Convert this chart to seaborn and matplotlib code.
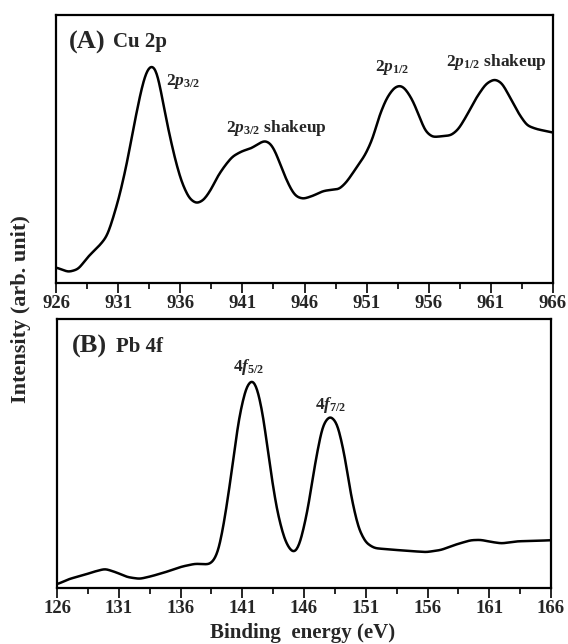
import numpy as np
import pandas as pd
import matplotlib
matplotlib.use("Agg")
import matplotlib.pyplot as plt
import seaborn as sns

# Cu 2p spectrum (binding energy in eV, intensity in arb. units)
cu_energy = [926.0, 927.0, 927.8, 928.6, 929.5, 930.1, 930.5, 931.1, 931.7, 932.3,
             932.9, 933.3, 933.7, 934.1, 934.5, 935.0, 935.6, 936.1, 936.7, 937.3,
             937.9, 938.5, 939.0, 939.6, 940.2, 941.0, 941.7, 942.3, 942.8, 943.3,
             943.7, 944.3, 944.9, 945.3, 945.9, 946.7, 947.5, 948.1, 948.8, 949.4,
             950.1, 950.9, 951.5, 952.0, 952.6, 953.2, 953.7, 954.1, 954.7, 955.3,
             955.7, 956.3, 956.9, 957.8, 958.4, 959.1, 959.8, 960.6, 961.3, 961.9,
             962.5, 963.2, 963.9, 964.7, 965.4, 966.0]
cu_pix = [735, 748, 740, 705, 675, 650, 610, 540, 450, 340,
          240, 193, 178, 193, 260, 350, 440, 500, 545, 560,
          550, 520, 485, 455, 430, 415, 408, 395, 386, 395,
          420, 475, 520, 540, 547, 538, 525, 522, 520, 500,
          465, 425, 380, 320, 270, 241, 234, 243, 275, 325,
          360, 377, 375, 372, 355, 315, 270, 230, 217, 228,
          265, 310, 345, 355, 360, 365]
cu_intensity = [(778 - p) / 738 for p in cu_pix]

# Pb 4f spectrum
pb_energy = [126.0, 127.0, 128.1, 129.0, 129.9, 130.8, 131.7, 132.7, 133.7, 134.9,
             136.1, 137.2, 138.3, 138.7, 139.1, 139.6, 140.2, 140.7, 141.3, 141.8,
             142.2, 142.7, 143.2, 143.8, 144.4, 144.9, 145.3, 145.7, 146.3, 146.9,
             147.5, 148.1, 148.7, 149.3, 149.8, 150.4, 151.0, 151.7, 152.7, 154.2,
             155.9, 157.1, 158.3, 159.5, 160.3, 161.2, 162.0, 163.3, 164.8, 166.0]
pb_pix = [785, 770, 760, 750, 742, 752, 765, 770, 762, 750,
          736, 728, 730, 720, 690, 600, 460, 330, 240, 218,
          240, 320, 450, 580, 660, 692, 698, 670, 580, 450,
          345, 318, 340, 430, 540, 630, 670, 685, 688, 692,
          696, 690, 675, 663, 662, 668, 672, 666, 665, 663]
pb_intensity = [(795 - p) / 743 for p in pb_pix]

cu_ticks = [926, 931, 936, 941, 946, 951, 956, 961, 966]
pb_ticks = [126, 131, 136, 141, 146, 151, 156, 161, 166]

sns.set_style("white")
plt.rcParams['font.family'] = ['Liberation Serif', 'DejaVu Serif']
plt.rcParams['font.weight'] = 'bold'
plt.rcParams['mathtext.fontset'] = 'custom'
plt.rcParams['mathtext.rm'] = 'Liberation Serif:bold'
plt.rcParams['mathtext.it'] = 'Liberation Serif:bold:italic'
plt.rcParams['mathtext.bf'] = 'Liberation Serif:bold'

cu_df = pd.DataFrame({"energy": cu_energy, "intensity": cu_intensity})
pb_df = pd.DataFrame({"energy": pb_energy, "intensity": pb_intensity})

fig = plt.figure(figsize=(5.68, 6.44), dpi=100)
ax1 = fig.add_axes([0.0986, 0.5606, 0.875, 0.4167])
ax2 = fig.add_axes([0.1004, 0.0870, 0.8697, 0.4177])


def smooth(df):
    xs = np.linspace(df.energy.min(), df.energy.max(), 801)
    ys = np.interp(xs, df.energy, df.intensity)
    t = np.arange(-12, 13)
    k = np.exp(-0.5 * (t / 4.0) ** 2)
    k /= k.sum()
    ys2 = np.convolve(np.pad(ys, 12, mode="edge"), k, mode="valid")
    return pd.DataFrame({"energy": xs, "intensity": ys2})


for ax, df, ticks in [(ax1, cu_df, cu_ticks), (ax2, pb_df, pb_ticks)]:
    sns.lineplot(data=smooth(df), x="energy", y="intensity", ax=ax,
                 color="black", linewidth=1.8)
    ax.set_xlim(ticks[0], ticks[-1])
    ax.set_ylim(0, 1)
    ax.set_xticks(ticks)
    ax.set_xticks(np.arange(ticks[0] + 2.5, ticks[-1], 5), minor=True)
    ax.set_yticks([])
    ax.set_xlabel("")
    ax.set_ylabel("")
    ax.tick_params(axis="x", which="major", direction="out", length=7, width=1.4,
                   labelsize=13.5, pad=2, bottom=True)
    ax.tick_params(axis="x", which="minor", direction="out", length=4, width=1.4,
                   bottom=True)
    for lab in ax.get_xticklabels():
        lab.set_fontweight("bold")
    for s in ax.spines.values():
        s.set_linewidth(1.6)
        s.set_color("black")

ax1.text(0.025, 0.898, "(A)", transform=ax1.transAxes, fontsize=19, fontweight="bold",
         va="center")
ax1.text(0.115, 0.898, "Cu 2p", transform=ax1.transAxes, fontsize=15, fontweight="bold",
         va="center")
ax1.text(934.85, 0.749, r"$2\mathit{p}_{3/2}$", fontsize=12.5, va="center")
ax1.text(939.7, 0.579, r"$2\mathit{p}_{3/2}$ shakeup", fontsize=12.5, va="center")
ax1.text(951.7, 0.804, r"$2\mathit{p}_{1/2}$", fontsize=12.5, va="center")
ax1.text(957.4, 0.823, r"$2\mathit{p}_{1/2}$ shakeup", fontsize=12.5, va="center")

ax2.text(0.03, 0.896, "(B)", transform=ax2.transAxes, fontsize=19, fontweight="bold",
         va="center")
ax2.text(0.12, 0.896, "Pb 4f", transform=ax2.transAxes, fontsize=15, fontweight="bold",
         va="center")
ax2.text(141.5, 0.822, r"$4\mathit{f}_{5/2}$", fontsize=12.5, ha="center", va="center")
ax2.text(148.2, 0.68, r"$4\mathit{f}_{7/2}$", fontsize=12.5, ha="center", va="center")

fig.text(0.037, 0.52, "Intensity (arb. unit)", rotation=90, fontsize=16,
         fontweight="bold", ha="center", va="center")
fig.text(0.532, 0.017, "Binding  energy (eV)", fontsize=15, fontweight="bold",
         ha="center", va="center")

fig.savefig("out.png", dpi=100)
